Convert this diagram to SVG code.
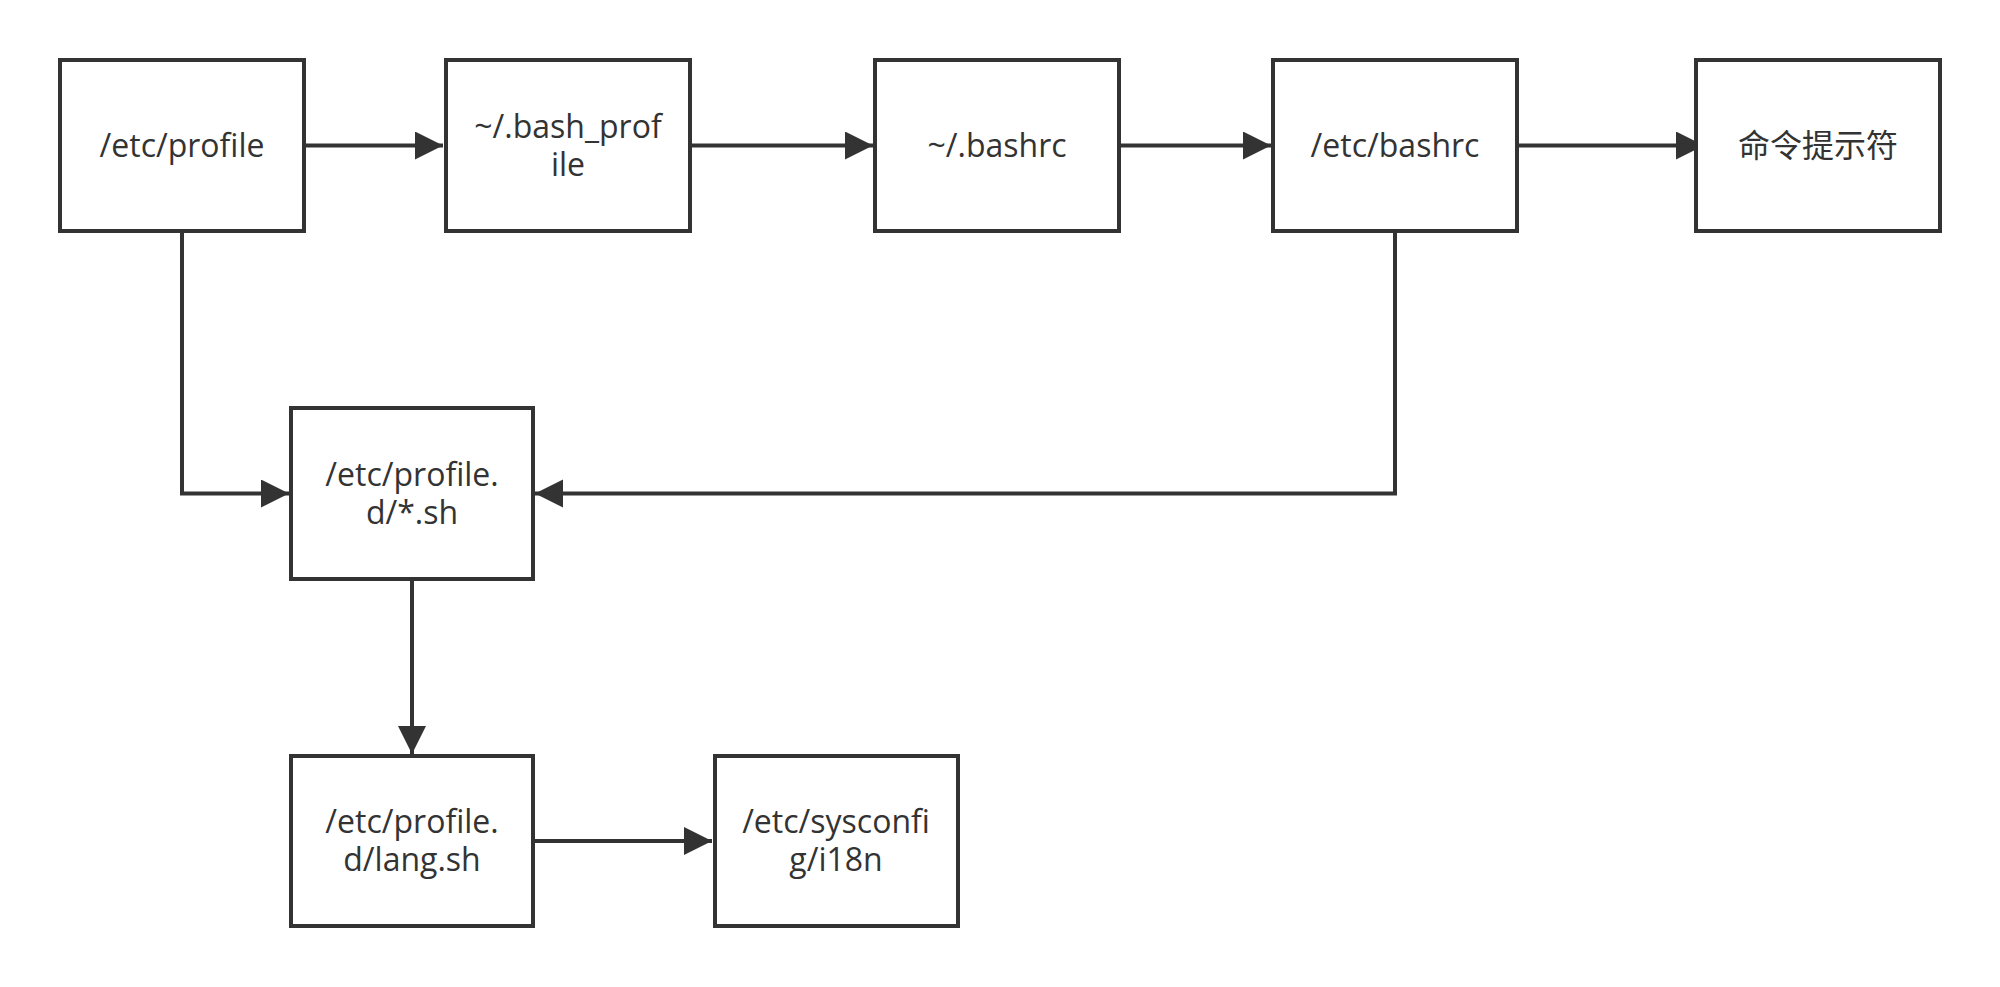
<svg xmlns="http://www.w3.org/2000/svg" width="2000" height="987" viewBox="0 0 2000 987">
<style>
.box{fill:#fff;stroke:#333;stroke-width:4}
.lbl{font-family:"Open Sans","Noto Sans CJK SC",sans-serif;font-size:32px;fill:#333;text-anchor:middle}
.edge{fill:none;stroke:#333;stroke-width:4}
</style>
<defs>
<marker id="arr" markerUnits="userSpaceOnUse" markerWidth="32" markerHeight="32" refX="28" refY="14" orient="auto">
<path d="M0,0 L28,14 L0,28 Z" fill="#333"/>
</marker>
</defs>
<rect width="2000" height="987" fill="#fff"/>
<g id="connectors">
<path class="edge" d="M304,145.5 H443" marker-end="url(#arr)"/>
<path class="edge" d="M690,145.5 H873" marker-end="url(#arr)"/>
<path class="edge" d="M1119,145.5 H1271" marker-end="url(#arr)"/>
<path class="edge" d="M1517,145.5 H1704" marker-end="url(#arr)"/>
<path class="edge" d="M182,231 V493.5 H289" marker-end="url(#arr)"/>
<path class="edge" d="M1395,231 V493.5 H535" marker-end="url(#arr)"/>
<path class="edge" d="M412,579 V754" marker-end="url(#arr)"/>
<path class="edge" d="M533,841 H712" marker-end="url(#arr)"/>
</g>
<g id="n1"><rect class="box" x="60" y="60" width="244" height="171"/><text class="lbl" x="182" y="157">/etc/profile</text></g>
<g id="n2"><rect class="box" x="446" y="60" width="244" height="171"/><text class="lbl" x="568" y="138">~/.bash_prof<tspan x="568" dy="38">ile</tspan></text></g>
<g id="n3"><rect class="box" x="875" y="60" width="244" height="171"/><text class="lbl" x="997" y="157">~/.bashrc</text></g>
<g id="n4"><rect class="box" x="1273" y="60" width="244" height="171"/><text class="lbl" x="1395" y="157">/etc/bashrc</text></g>
<g id="n5"><rect class="box" x="1696" y="60" width="244" height="171"/><text class="lbl" x="1818" y="157">命令提示符</text></g>
<g id="n6"><rect class="box" x="291" y="408" width="242" height="171"/><text class="lbl" x="412" y="486">/etc/profile.<tspan x="412" dy="38">d/*.sh</tspan></text></g>
<g id="n7"><rect class="box" x="291" y="756" width="242" height="170"/><text class="lbl" x="412" y="833">/etc/profile.<tspan x="412" dy="38">d/lang.sh</tspan></text></g>
<g id="n8"><rect class="box" x="715" y="756" width="243" height="170"/><text class="lbl" x="836" y="833">/etc/sysconfi<tspan x="836" dy="38">g/i18n</tspan></text></g>
</svg>
